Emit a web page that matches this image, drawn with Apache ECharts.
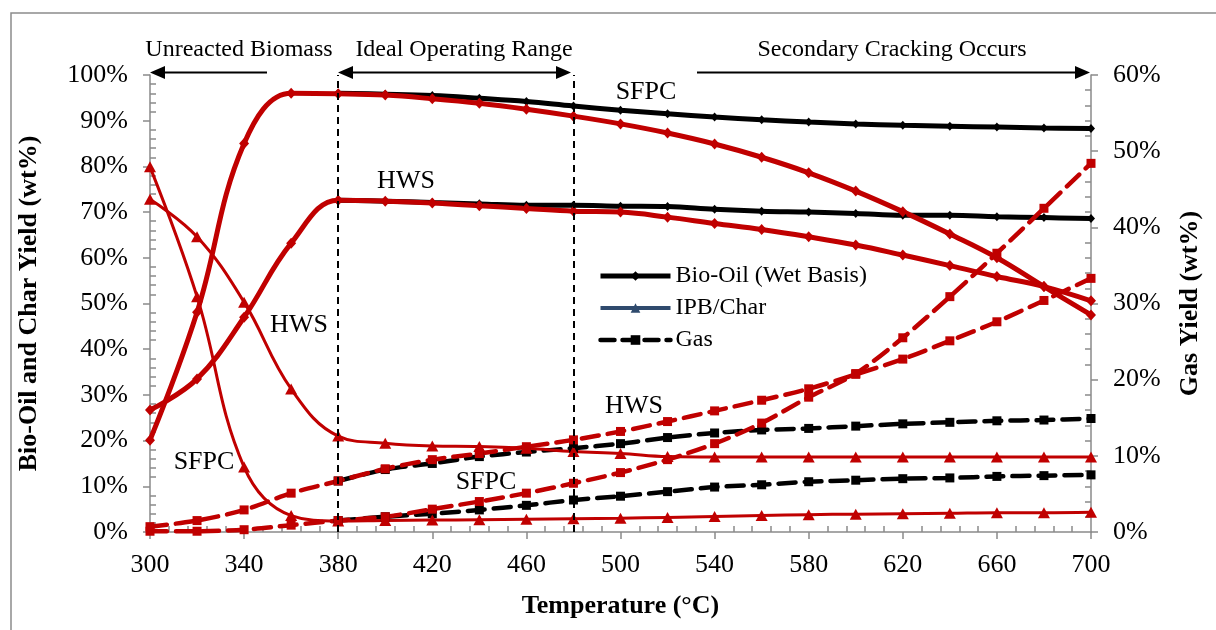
<!DOCTYPE html>
<html>
<head>
<meta charset="utf-8">
<script src="https://cdn.jsdelivr.net/npm/echarts@6/dist/echarts.min.js"></script>
<style>
html,body{margin:0;padding:0;background:#fff;}
#chart{width:1216px;height:630px;}
</style>
</head>
<body>
<div id="chart"></div>
<script>
// ---- Data ----
var temps = [300,320,340,360,380,400,420,440,460,480,500,520,540,560,580,600,620,640,660,680,700];
// Bio-oil yield (%), red curves
var sfpcOilRed = [20.1,48.1,85.0,96.0,95.9,95.6,94.8,93.8,92.5,91.0,89.3,87.3,84.9,82.0,78.6,74.6,70.1,65.2,60.0,53.7,47.5];
var hwsOilRed  = [26.7,33.5,47.0,63.2,72.6,72.4,72.0,71.4,70.8,70.2,70.0,68.9,67.5,66.2,64.6,62.8,60.6,58.3,55.9,53.7,50.6];
// Bio-oil (wet basis), black curves (from 380 °C)
var sfpcOilBlack = [null,null,null,null,96.0,95.8,95.5,94.9,94.2,93.2,92.3,91.5,90.8,90.2,89.7,89.3,89.0,88.8,88.6,88.4,88.3];
var hwsOilBlack  = [null,null,null,null,72.6,72.4,72.1,71.8,71.5,71.5,71.3,71.2,70.6,70.2,70.0,69.7,69.3,69.3,69.0,68.8,68.6];
// IPB / char yield (%)
var sfpcChar = [79.9,51.5,14.2,3.6,2.4,2.5,2.6,2.7,2.8,2.9,3.0,3.2,3.4,3.6,3.8,3.9,4.0,4.1,4.2,4.2,4.3];
var hwsChar  = [72.8,64.6,50.3,31.3,21.0,19.4,18.8,18.7,18.3,17.6,17.2,16.5,16.4,16.4,16.4,16.4,16.4,16.4,16.4,16.4,16.4];
// Gas yield (%), right axis
var hwsGasRed   = [0.7,1.5,2.9,5.1,6.7,8.3,9.5,10.3,11.2,12.1,13.2,14.5,15.9,17.3,18.8,20.7,22.7,25.1,27.6,30.4,33.3];
var sfpcGasRed  = [0.1,0.1,0.3,0.9,1.5,2.0,3.0,4.0,5.1,6.4,7.8,9.5,11.6,14.3,17.7,20.8,25.5,30.9,36.6,42.5,48.4];
var hwsGasBlack  = [null,null,null,null,6.7,8.2,9.0,9.9,10.5,11.0,11.6,12.4,13.0,13.4,13.6,13.9,14.2,14.4,14.6,14.7,14.9];
var sfpcGasBlack = [null,null,null,null,1.5,2.0,2.4,2.9,3.5,4.2,4.7,5.3,5.9,6.2,6.6,6.8,7.0,7.1,7.3,7.4,7.5];
// Boundaries of the operating range (°C)
var rangeBounds = [380, 480];
// Axis ticks
var xMin = 300, xMax = 700, xStep = 40;
var yLeftMax = 100, yLeftStep = 10;
var yRightMax = 60, yRightStep = 10;

// ---- Helpers ----
function pairs(vals) {
  var out = [];
  for (var i = 0; i < temps.length; i++) {
    if (vals[i] !== null && vals[i] !== undefined) out.push([temps[i], vals[i]]);
  }
  return out;
}
var RED = '#C00000';
var BLUE = '#2F4A6D';
var FONT = "'Liberation Serif', 'Times New Roman', serif";
var AXIS_GRAY = '#8a8a8a';

function oilSeries(name, vals, color, width, symSize) {
  return {
    name: name, type: 'line', yAxisIndex: 0, data: pairs(vals), smooth: 0.4,
    symbol: 'diamond', symbolSize: symSize, showSymbol: true,
    itemStyle: { color: color }, lineStyle: { color: color, width: width },
    emphasis: { disabled: true }
  };
}
function charSeries(name, vals, color) {
  return {
    name: name, type: 'line', yAxisIndex: 0, data: pairs(vals), smooth: 0.4,
    symbol: 'triangle', symbolSize: [12, 11],
    itemStyle: { color: color }, lineStyle: { color: color, width: 3 },
    emphasis: { disabled: true }
  };
}
function gasSeries(name, vals, color) {
  return {
    name: name, type: 'line', yAxisIndex: 1, data: pairs(vals), smooth: 0.3,
    symbol: 'rect', symbolSize: 9,
    itemStyle: { color: color },
    lineStyle: { color: color, width: 4.5, type: [17, 9], cap: 'round' },
    emphasis: { disabled: true }
  };
}

var blackOilSfpc = oilSeries('Bio-Oil (Wet Basis)', sfpcOilBlack, '#000', 5, [8, 9]);
blackOilSfpc.markLine = {
  silent: true, symbol: ['none', 'none'], label: { show: false },
  lineStyle: { color: '#000', width: 2, type: [7, 5] },
  emphasis: { disabled: true },
  data: rangeBounds.map(function (v) { return { xAxis: v }; })
};

var series = [
  blackOilSfpc,
  oilSeries('Bio-Oil (Wet Basis)', hwsOilBlack, '#000', 5, [8, 9]),
  gasSeries('Gas', hwsGasBlack, '#000'),
  gasSeries('Gas', sfpcGasBlack, '#000'),
  { name: 'IPB/Char', type: 'line', data: [], symbol: 'triangle', symbolSize: 10,
    itemStyle: { color: BLUE }, lineStyle: { color: BLUE, width: 4 } },
  oilSeries('SFPC bio-oil', sfpcOilRed, RED, 5, [10, 11]),
  oilSeries('HWS bio-oil', hwsOilRed, RED, 5, [10, 11]),
  charSeries('SFPC char', sfpcChar, RED),
  charSeries('HWS char', hwsChar, RED),
  gasSeries('HWS gas', hwsGasRed, RED),
  gasSeries('SFPC gas', sfpcGasRed, RED)
];

function arrowHead(x, y, dir) {
  var L = 15, W = 6.5;
  return { type: 'polygon', silent: true,
    shape: { points: [[x, y], [x - dir * L, y - W], [x - dir * L, y + W]] },
    style: { fill: '#000' } };
}
function hline(x1, x2, y) {
  return { type: 'line', silent: true, shape: { x1: x1, y1: y, x2: x2, y2: y },
    style: { stroke: '#000', lineWidth: 2 } };
}
function txt(s, x, y, size) {
  return { type: 'text', silent: true, x: x, y: y,
    style: { text: s, fontSize: size, fontFamily: FONT, fill: '#000', align: 'center', verticalAlign: 'middle' } };
}
var AY = 72.5;
var graphics = [
  { type: 'rect', silent: true, shape: { x: 11, y: 13, width: 1300, height: 700 },
    style: { fill: 'none', stroke: '#8c8c8c', lineWidth: 1.5 } },
  txt('Unreacted Biomass', 239, 50, 24),
  txt('Ideal Operating Range', 464, 50, 24),
  txt('Secondary Cracking Occurs', 892, 50, 24),
  hline(160, 267, AY), arrowHead(150, AY, -1),
  hline(348, 560, AY), arrowHead(338, AY, -1), arrowHead(571, AY, 1),
  hline(697, 1080, AY), arrowHead(1090, AY, 1),
  txt('SFPC', 646, 92, 26),
  txt('HWS', 406, 181, 26),
  txt('HWS', 299, 325, 26),
  txt('SFPC', 204, 462, 26),
  txt('HWS', 634, 406, 26),
  txt('SFPC', 486, 482, 26)
];

var axisLabelStyle = { color: '#000', fontSize: 26, fontFamily: FONT };
var nameStyle = { color: '#000', fontSize: 26, fontWeight: 'bold', fontFamily: FONT };

var option = {
  animation: false,
  backgroundColor: '#fff',
  textStyle: { fontFamily: FONT },
  grid: { left: 150, right: 125, top: 75, bottom: 98, containLabel: false },
  legend: {
    data: [
      { name: 'Bio-Oil (Wet Basis)', lineStyle: { width: 5, color: '#000' } },
      { name: 'IPB/Char', lineStyle: { width: 4, color: BLUE } },
      { name: 'Gas', lineStyle: { width: 4.5, color: '#000', type: [14, 8], cap: 'round' } }
    ],
    orient: 'vertical', left: 598, top: 264, itemWidth: 70, itemHeight: 12, itemGap: 8,
    padding: 0, selectedMode: false,
    textStyle: { color: '#000', fontSize: 24, fontFamily: FONT }
  },
  xAxis: {
    type: 'value', min: xMin, max: xMax, interval: xStep,
    name: 'Temperature (°C)', nameLocation: 'middle', nameGap: 61, nameTextStyle: nameStyle,
    axisLine: { show: true, lineStyle: { color: AXIS_GRAY, width: 1.5 } },
    axisTick: { show: true, inside: false, length: 7, lineStyle: { color: AXIS_GRAY, width: 1.5 } },
    minorTick: { show: true, splitNumber: 5, length: -6, lineStyle: { color: AXIS_GRAY, width: 1.5 } },
    splitLine: { show: false },
    axisLabel: Object.assign({ margin: 20 }, axisLabelStyle)
  },
  yAxis: [{
    type: 'value', min: 0, max: yLeftMax, interval: yLeftStep, position: 'left',
    name: 'Bio-Oil and Char Yield (wt%)', nameLocation: 'middle', nameRotate: 90, nameGap: 108,
    nameTextStyle: nameStyle,
    axisLine: { show: true, lineStyle: { color: AXIS_GRAY, width: 1.5 } },
    axisTick: { show: true, inside: false, length: 7, lineStyle: { color: AXIS_GRAY, width: 1.5 } },
    minorTick: { show: true, splitNumber: 5, length: -6, lineStyle: { color: AXIS_GRAY, width: 1.5 } },
    splitLine: { show: false },
    axisLabel: Object.assign({ margin: 22, formatter: '{value}%' }, axisLabelStyle)
  }, {
    type: 'value', min: 0, max: yRightMax, interval: yRightStep, position: 'right',
    name: 'Gas Yield (wt%)', nameLocation: 'middle', nameRotate: 90, nameGap: 86,
    nameTextStyle: nameStyle,
    axisLine: { show: true, lineStyle: { color: AXIS_GRAY, width: 1.5 } },
    axisTick: { show: true, inside: false, length: 7, lineStyle: { color: AXIS_GRAY, width: 1.5 } },
    minorTick: { show: true, splitNumber: 5, length: -6, lineStyle: { color: AXIS_GRAY, width: 1.5 } },
    splitLine: { show: false },
    axisLabel: Object.assign({ margin: 22, formatter: '{value}%' }, axisLabelStyle)
  }],
  series: series,
  graphic: graphics
};

var chart = echarts.init(document.getElementById('chart'), null, { renderer: 'canvas' });
chart.setOption(option);
</script>
</body>
</html>
